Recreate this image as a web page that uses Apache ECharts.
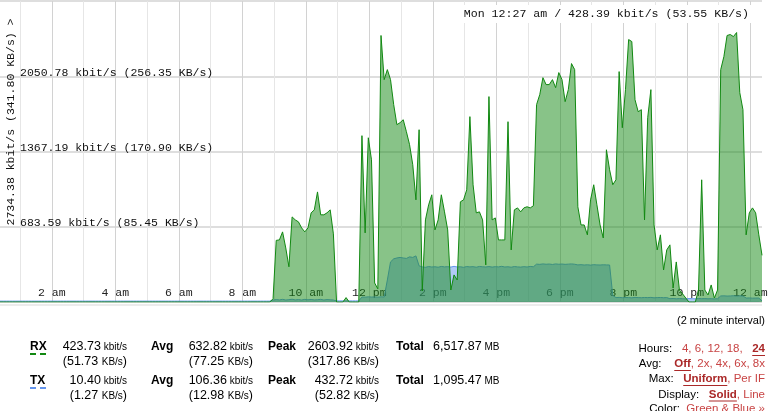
<!DOCTYPE html>
<html><head><meta charset="utf-8">
<script src="https://cdn.jsdelivr.net/npm/echarts@6/dist/echarts.min.js"></script>
<style>html,body{margin:0;padding:0;background:#fff}#c{width:768px;height:411px}</style>
</head><body><div id="c"></div>
<script>
// time window: minutes after midnight (Sun), 6-minute samples
const START_MIN = 22;
const STEP_MIN = 6;
const END_MIN = 1462;

// RX (download) kbit/s
const rxKbit = [
0,0,0,0,0,0,0,0,0,0, 0,0,0,0,0,0,0,0,0,0,
0,0,0,0,0,0,0,0,0,0, 0,0,0,0,0,0,0,0,0,0,
0,0,0,0,0,0,0,0,0,0, 0,0,0,0,0,0,0,0,0,0,
0,0,0,0,0,0,0,0,0,0, 0,0,0,0,0,0,0,0,0,0,
0,0,0,0,0,0,
30,560,564,637,491,320,773,746,728,673,637,673,810,837,1000,792,792,810,837,619,
0,0,0,40,0,0,0,0,
1511,628,1492,1292,173,120,2421,2020,2111,2020,1793,1611,1629,1656,1547,1429,1247,928,1565,100,
746,883,974,655,746,974,819,655,109,246,200,910,928,1019,1684,1065,810,819,746,337,
1866,746,764,564,564,564,1638,473,837,855,819,855,865,855,874,1793,1884,2038,1975,1975,
2020,1947,2084,2020,1820,1929,2166,2111,865,700,700,610,928,1065,883,700,582,1383,1201,1065,
1110,2093,1583,1929,2384,2366,1838,1729,1747,746,1674,1929,700,473,610,291,473,519,127,364,
109,73,36,0,0,0,109,1110,109,64,155,36,109,2111,2230,2421,2430,2411,2448,1902,
1747,610,810,855,810,610,424
];

// TX (upload) kbit/s
const txKbit = [
8,8,8,8,8,8,8,8,8,8, 8,8,8,8,8,8,8,8,8,8,
8,8,8,8,8,8,8,8,8,8, 8,8,8,8,8,8,8,8,8,8,
8,8,8,8,8,8,8,8,8,8, 8,8,8,8,8,8,8,8,8,8,
8,8,8,8,8,8,8,8,8,8, 8,8,8,8,8,8,8,8,8,8,
8,8,8,8,8,8,
18,22,19,24,18,21,25,19,22,18,24,20,23,19,21,24,18,22,20,18,
10,10,10,10,10,10,10,10,
45,44,47,45,46,44,47,45,200,364,392,400,405,400,396,410,405,419,328,319,
315,322,318,320,316,323,319,321,317,324,318,320,315,322,319,321,316,323,320,318,
322,317,321,319,324,318,320,316,322,319,317,321,318,323,320,
344,342,346,343,345,341,346,343,345,342,344,346,343,
337,339,336,338,335,339,337,336,338,337,336,
60,
40,42,39,41,40,38,42,40,39,41,40,42,38,40,41,39,40,
30,32,29,31,30,28,31,30,29,32,30,31,29,30,28,30,
55,56,54,55,57,54,56,55,
36,37,35,36,36,
10
];

const yMax = 2734.38;
const yStep = 683.595;
const yTickLabels = ['', '683.59 kbit/s (85.45 KB/s)', '1367.19 kbit/s (170.90 KB/s)', '2050.78 kbit/s (256.35 KB/s)', ''];
const yTitle = '2734.38 kbit/s (341.80 KB/s) >';

const xLabelMinutes = [120,240,360,480,600,720,840,960,1080,1200,1320,1440];
const xLabels = ['2 am','4 am','6 am','8 am','10 am','12 pm','2 pm','4 pm','6 pm','8 pm','10 pm','12 am'];
const xOddMinutes = [60,180,300,420,540,660,780,900,1020,1140,1260,1380];

const hoverText = 'Mon 12:27 am / 428.39 kbit/s (53.55 KB/s)';

// stats: current kbit, current KB, avg kbit, avg KB, peak kbit, peak KB, total MB
const rxStats = ['423.73','51.73','632.82','77.25','2603.92','317.86','6,517.87'];
const txStats = ['10.40','1.27','106.36','12.98','432.72','52.82','1,095.47'];
const intervalText = '(2 minute interval)';

// option lines: [label, gap, [text, selected?], ...]
const optHours = ['Hours:', '   ', ['4, 6, 12, 18,', false], ['   ', false], ['24', true]];
const optAvg = ['Avg:', '    ', ['Off', true], [', 2x, 4x, 6x, 8x', false]];
const optMax = ['Max:', '   ', ['Uniform', true], [', Per IF', false]];
const optDisplay = ['Display:', '   ', ['Solid', true], [', Line', false]];
const optColor = ['Color:', '  ', ['Green & Blue \u00bb', false]];

const RX_COLOR = '#118811';
const TX_COLOR = '#6495ed';

const times = rxKbit.map((_, i) => START_MIN + i * STEP_MIN);
const rxData = times.map((t, i) => [t, rxKbit[i]]);
const txData = times.map((t, i) => [t, txKbit[i]]);

const SANS = 'Liberation Sans';
const MONO = 'Liberation Mono';
const rich = {
  n: {fontFamily: SANS, fontSize: 12.5, fill: '#000', color: '#000'},
  u: {fontFamily: SANS, fontSize: 10, fill: '#000', color: '#000'}
};
function txt(x, y, text, align) {
  return {type: 'text', x: x, y: y, z: 50,
    style: {text: text, align: align, verticalAlign: 'middle', rich: rich,
      fontFamily: SANS, fontSize: 12.5, fill: '#000'}};
}
function bold(x, y, text) {
  return {type: 'text', x: x, y: y, z: 50, style: {text: text, align: 'left', verticalAlign: 'middle',
    fontFamily: SANS, fontSize: 12, fontWeight: 'bold', fill: '#000'}};
}
function statRow(stats, yMain, yParen) {
  return [
    txt(127, yMain, '{n|' + stats[0] + '}{u| kbit/s}', 'right'),
    txt(127, yParen, '{n|(' + stats[1] + ' }{u|KB/s}{n|)}', 'right'),
    bold(151, yMain, 'Avg'),
    txt(253, yMain, '{n|' + stats[2] + '}{u| kbit/s}', 'right'),
    txt(253, yParen, '{n|(' + stats[3] + ' }{u|KB/s}{n|)}', 'right'),
    bold(268, yMain, 'Peak'),
    txt(379, yMain, '{n|' + stats[4] + '}{u| kbit/s}', 'right'),
    txt(379, yParen, '{n|(' + stats[5] + ' }{u|KB/s}{n|)}', 'right'),
    bold(396, yMain, 'Total'),
    txt(433, yMain, '{n|' + stats[6] + '}{u| MB}', 'left')
  ];
}
const LINK = '#c84444';
const SEL = '#aa2828';
const OPT_FS = 11.5;
const optRich = {
  k: {fontFamily: SANS, fontSize: OPT_FS, fill: '#000', color: '#000'},
  l: {fontFamily: SANS, fontSize: OPT_FS, fill: LINK, color: LINK},
  s: {fontFamily: SANS, fontSize: OPT_FS, fontWeight: 'bold', fill: SEL, color: SEL}
};
const mctx = document.createElement('canvas').getContext('2d');
function measure(t, isBold) {
  mctx.font = (isBold ? 'bold ' : '') + OPT_FS + 'px "Liberation Sans"';
  return mctx.measureText(t).width;
}
function optLine(y, def) {
  const RIGHT = 765;
  const segs = [['k', def[0]], ['k', def[1]]];
  for (let i = 2; i < def.length; i++) segs.push([def[i][1] ? 's' : 'l', def[i][0]]);
  const widths = segs.map(s => measure(s[1], s[0] === 's'));
  const total = widths.reduce((a, b) => a + b, 0);
  const out = [{type: 'text', x: RIGHT, y: y, z: 50, style: {text: segs.map(s => '{' + s[0] + '|' + s[1] + '}').join(''),
    align: 'right', verticalAlign: 'middle', rich: optRich, fontFamily: SANS, fontSize: OPT_FS}}];
  let x = RIGHT - total;
  segs.forEach((s, i) => {
    if (s[0] === 's') out.push({type: 'rect', z: 50, shape: {x: x, y: y + 6, width: widths[i], height: 1}, style: {fill: SEL}});
    x += widths[i];
  });
  return out;
}
function dash(x, y, color) {
  return {type: 'rect', z: 50, shape: {x: x, y: y, width: 6, height: 2}, style: {fill: color}};
}

const graphics = [
  {type: 'rect', z: 1, shape: {x: 0, y: 304, width: 762, height: 2}, style: {fill: '#ececec'}},
  {type: 'text', x: 11, y: 122, rotation: Math.PI / 2, z: 50,
    style: {text: yTitle, align: 'center', verticalAlign: 'middle', fontFamily: MONO, fontSize: 11.5, fill: '#111'}},
  {type: 'text', x: 752, y: 14, z: 60,
    style: {text: hoverText, align: 'right', verticalAlign: 'middle', fontFamily: MONO, fontSize: 11.6, fill: '#111',
      backgroundColor: '#fff', padding: [3, 3, 3, 3]}},
  bold(30, 347, 'RX'), dash(30, 353, RX_COLOR), dash(40, 353, RX_COLOR),
  bold(30, 381, 'TX'), dash(30, 387, TX_COLOR), dash(40, 387, TX_COLOR),
  ...statRow(rxStats, 347, 362),
  ...statRow(txStats, 381, 396),
  {type: 'text', x: 765, y: 321, z: 50, style: {text: intervalText, align: 'right', verticalAlign: 'middle', fontFamily: SANS, fontSize: 11, fill: '#000'}},
  ...optLine(349, optHours),
  ...optLine(364, optAvg),
  ...optLine(379, optMax),
  ...optLine(394.5, optDisplay),
  ...optLine(408.5, optColor)
];

const chart = echarts.init(document.getElementById('c'), null, {renderer: 'canvas'});
chart.setOption({
  animation: false,
  backgroundColor: '#fff',
  grid: {left: 0, right: 6, top: 1, bottom: 109, outerBoundsMode: 'none', containLabel: false},
  xAxis: [
    {type: 'value', min: START_MIN, max: END_MIN,
      axisLine: {show: false}, axisTick: {show: false, customValues: xLabelMinutes},
      splitLine: {show: true, lineStyle: {color: '#d2d2d2', width: 1}},
      axisLabel: {customValues: xLabelMinutes, inside: true, margin: 3,
        formatter: (v) => { const k = xLabelMinutes.indexOf(Math.round(v)); return k >= 0 ? xLabels[k] : ''; },
        color: '#222', fontFamily: MONO, fontSize: 11.5, lineHeight: 12, verticalAlign: 'bottom'}},
    {type: 'value', min: START_MIN, max: END_MIN, position: 'bottom',
      axisLine: {show: false}, axisTick: {show: false, customValues: xOddMinutes},
      axisLabel: {show: false},
      splitLine: {show: true, lineStyle: {color: '#e6e6e6', width: 1}}}
  ],
  yAxis: {type: 'value', min: 0, max: yMax, interval: yStep,
    axisLine: {show: false}, axisTick: {show: false},
    splitLine: {show: true, lineStyle: {color: '#dedede', width: 2}},
    axisLabel: {inside: true, margin: 20, formatter: (v, i) => yTickLabels[i] || '',
      verticalAlign: 'bottom', lineHeight: 7, color: '#111', fontFamily: MONO, fontSize: 11.5}},
  series: [
    {type: 'line', name: 'TX', data: txData, symbol: 'none', silent: true, z: 2,
      lineStyle: {color: TX_COLOR, width: 1}, areaStyle: {color: TX_COLOR, opacity: 0.5}},
    {type: 'line', name: 'RX', data: rxData, symbol: 'none', silent: true, z: 3,
      lineStyle: {color: RX_COLOR, width: 1}, areaStyle: {color: RX_COLOR, opacity: 0.5}}
  ],
  graphic: graphics
});
</script></body></html>
